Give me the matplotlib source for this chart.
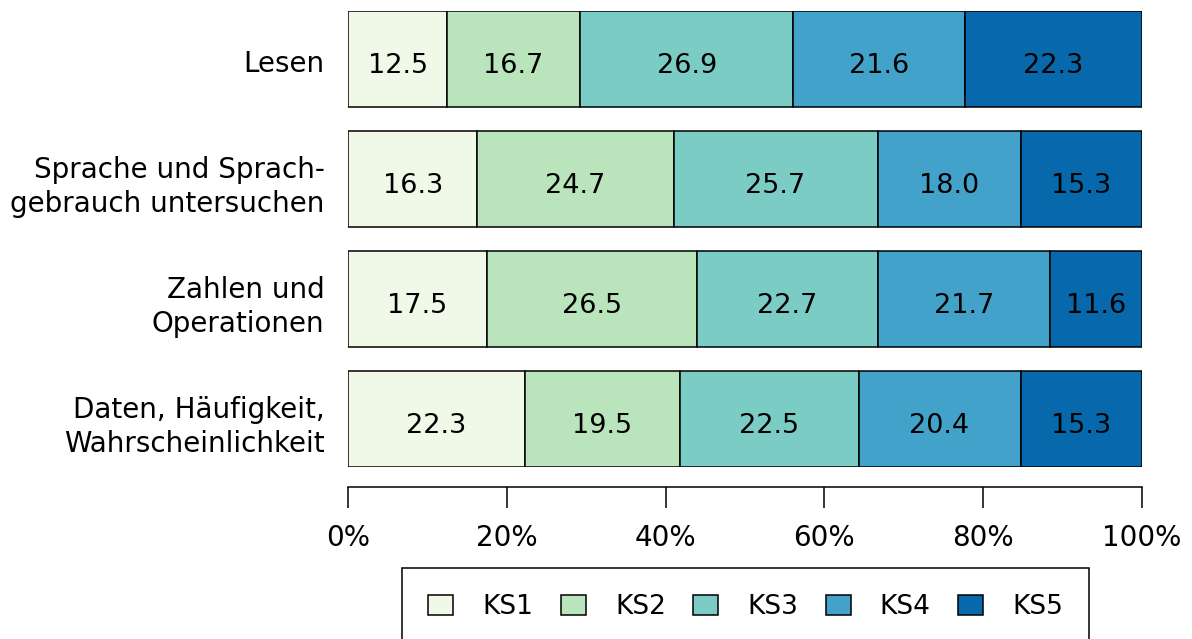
import numpy as np
import matplotlib
matplotlib.use("Agg")
import matplotlib.pyplot as plt
from matplotlib.patches import Patch
from matplotlib.transforms import ScaledTranslation

plt.rcParams['font.family'] = ['DejaVu Sans']

# data
categories = ["Lesen",
              "Sprache und Sprach-\ngebrauch untersuchen",
              "Zahlen und\nOperationen",
              "Daten, Häufigkeit,\nWahrscheinlichkeit"]
levels = ["KS1", "KS2", "KS3", "KS4", "KS5"]
ks1 = [12.5, 16.3, 17.5, 22.3]
ks2 = [16.7, 24.7, 26.5, 19.5]
ks3 = [26.9, 25.7, 22.7, 22.5]
ks4 = [21.6, 18.0, 21.7, 20.4]
ks5 = [22.3, 15.3, 11.6, 15.3]
colors = ["#f0f9e8", "#bae4bc", "#7bccc4", "#43a2ca", "#0868ac"]
xticks = [0, 20, 40, 60, 80, 100]

W, H = 1192, 639
fig = plt.figure(figsize=(W / 100, H / 100), dpi=100)
ax = fig.add_axes([348 / W, (H - 467) / H, (1142 - 348) / W, (467 - 11) / H])

# axis line below the bars, only from 0 to 100 (set before ticks, it resets them)
for s in ["top", "right", "left"]:
    ax.spines[s].set_visible(False)
ax.spines["bottom"].set_position(("outward", 14.4))
ax.spines["bottom"].set_bounds(0, 100)
ax.spines["bottom"].set_linewidth(1.1)

y = np.arange(len(categories))
left = np.zeros(len(categories))
for vals, col in zip([ks1, ks2, ks3, ks4, ks5], colors):
    vals = np.array(vals)
    ax.barh(y, vals, left=left, height=0.8, color=col,
            edgecolor="black", linewidth=1.1)
    for yi, l, v in zip(y, left, vals):
        ax.text(l + v / 2, yi + 0.12, f"{v:.1f}", ha="center", va="baseline",
                fontsize=19.5, color="black")
    left += vals

ax.set_xlim(0, 100)
ax.set_ylim(3.4, -0.4)
ax.set_yticks(y)
ax.set_yticklabels(categories)
ax.tick_params(axis="y", length=0, pad=17, labelsize=20)
shift = ScaledTranslation(0, -0.025, fig.dpi_scale_trans)
for lab in ax.get_yticklabels():
    lab.set_linespacing(1.25)
    lab.set_transform(lab.get_transform() + shift)

ax.set_xticks(xticks)
ax.set_xticklabels([f"{t}%" for t in xticks])
ax.tick_params(axis="x", length=15, width=1.1, pad=12, labelsize=20)

handles = [Patch(facecolor=c, edgecolor="black", linewidth=1.1) for c in colors]
leg = fig.legend(handles, levels, loc="upper left",
                 bbox_to_anchor=(402 / W, 1 - 568 / H),
                 bbox_transform=fig.transFigure,
                 ncol=5, fontsize=19, frameon=True, fancybox=False,
                 framealpha=1, edgecolor="black",
                 handlelength=0.95, handleheight=0.8,
                 handletextpad=1.1, columnspacing=1.04, borderpad=1.0,
                 borderaxespad=0)
leg.get_frame().set_linewidth(1.1)

fig.savefig("out.png", dpi=100)
